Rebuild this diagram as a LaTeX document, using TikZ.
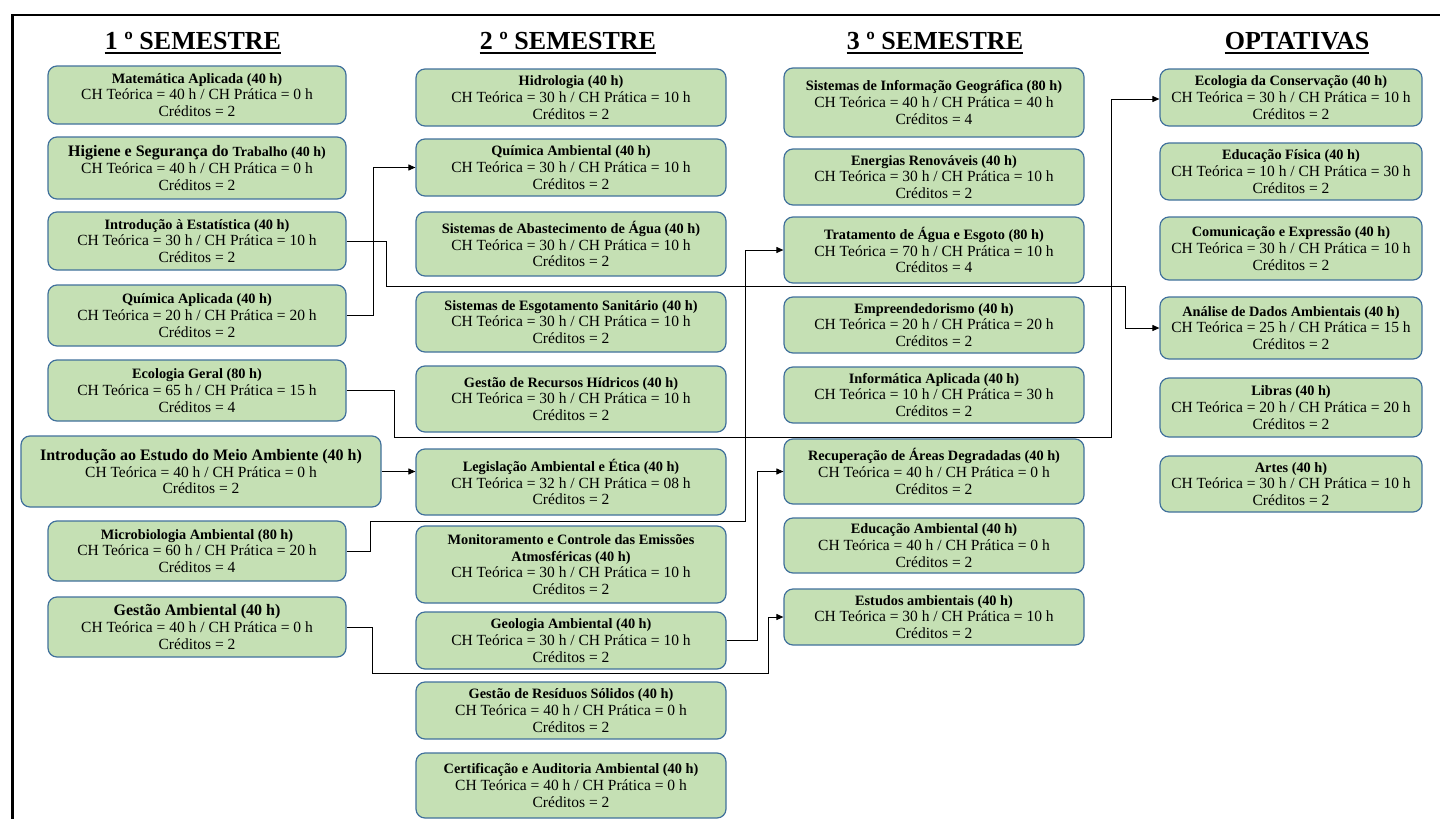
\documentclass[tikz,border=0pt]{standalone}
\usepackage{fontspec}
\setmainfont{Liberation Serif}
\usetikzlibrary{arrows.meta,calc}
\definecolor{boxfill}{HTML}{C5E0B4}
\definecolor{boxline}{HTML}{41719C}
\newcommand\ttl[1]{\textbf{\fontsize{14.3}{16.5}\selectfont #1}}
\newcommand\crs[4]{\ttl{#1}\\CH Teórica = #2 h / CH Prática = #3 h\\Créditos = #4}
\begin{document}
\begin{tikzpicture}[x=1pt,y=-1pt,
 box/.style={draw=boxline, line width=1.2pt, fill=boxfill, rounded corners=9pt, inner sep=0pt, align=center, font=\fontsize{15.5}{16.8}\selectfont},
 c1/.style={box, minimum width=298pt},
 c2/.style={box, minimum width=310pt},
 c3/.style={box, minimum width=300pt},
 c4/.style={box, minimum width=262pt},
 conn/.style={draw=black, line width=1pt, -{Triangle[length=7pt,width=6pt]}},
 head/.style={font=\fontsize{26}{30}\selectfont\bfseries, inner sep=0pt, anchor=base},
 uline/.style={line width=1.8pt}]
\useasboundingbox (0,0) rectangle (1440,819);
\fill[white] (0,0) rectangle (1440,819);
\draw[line width=2.5pt] (12.5,819) -- (12.5,15) -- (1440,15);

% headings
\node[head] (h1) at (193,49) {1 º SEMESTRE};
\node[head] (h2) at (568,49) {2 º SEMESTRE};
\node[head] (h3) at (935,49) {3 º SEMESTRE};
\node[head] (h4) at (1297,49) {OPTATIVAS};
\foreach \h in {h1,h2,h3,h4}{
  \draw[uline] ([yshift=-4pt]\h.base west) -- ([yshift=-4pt]\h.base east);
}

% column 1
\node[c1, minimum height=58pt] (mat) at (197,95) {\crs{Matemática Aplicada (40 h)}{40}{0}{2}};
\node[c1, minimum height=62pt] (hig) at (197,168) {\textbf{\fontsize{16}{16.5}\selectfont Higiene e Segurança do \fontsize{14}{16.5}\selectfont Trabalho (40 h)}\\CH Teórica = 40 h / CH Prática = 0 h\\Créditos = 2};
\node[c1, minimum height=58pt] (est) at (197,241) {\crs{Introdução à Estatística (40 h)}{30}{10}{2}};
\node[c1, minimum height=61pt] (qap) at (197,315.5) {\crs{Química Aplicada (40 h)}{20}{20}{2}};
\node[c1, minimum height=61pt] (eco) at (197,390.5) {\crs{Ecologia Geral (80 h)}{65}{15}{4}};
\node[box, minimum width=360pt, minimum height=71pt] (ime) at (201,471.5) {\textbf{\fontsize{16}{16.5}\selectfont Introdução ao Estudo do Meio Ambiente (40 h)}\\CH Teórica = 40 h / CH Prática = 0 h\\Créditos = 2};
\node[c1, minimum height=60pt] (mic) at (197,551) {\crs{Microbiologia Ambiental (80 h)}{60}{20}{4}};
\node[c1, minimum height=60pt] (gam) at (197,627) {\textbf{\fontsize{16}{16.5}\selectfont Gestão Ambiental (40 h)}\\CH Teórica = 40 h / CH Prática = 0 h\\Créditos = 2};

% column 2
\node[c2, minimum height=57pt] (hid) at (571,97.5) {\crs{Hidrologia (40 h)}{30}{10}{2}};
\node[c2, minimum height=57pt] (qam) at (571,167.5) {\crs{Química Ambiental (40 h)}{30}{10}{2}};
\node[c2, minimum height=64pt] (sab) at (571,244) {\crs{Sistemas de Abastecimento de Água (40 h)}{30}{10}{2}};
\node[c2, minimum height=60pt] (ses) at (571,322) {\crs{Sistemas de Esgotamento Sanitário (40 h)}{30}{10}{2}};
\node[c2, minimum height=66pt] (grh) at (571,399) {\crs{Gestão de Recursos Hídricos (40 h)}{30}{10}{2}};
\node[c2, minimum height=66pt] (leg) at (571,482) {\crs{Legislação Ambiental e Ética (40 h)}{32}{08}{2}};
\node[c2, minimum height=77pt] (mon) at (571,564.5) {\ttl{Monitoramento e Controle das Emissões}\\\ttl{Atmosféricas (40 h)}\\CH Teórica = 30 h / CH Prática = 10 h\\Créditos = 2};
\node[c2, minimum height=57pt] (geo) at (571,640.5) {\crs{Geologia Ambiental (40 h)}{30}{10}{2}};
\node[c2, minimum height=57pt] (grs) at (571,710.5) {\crs{Gestão de Resíduos Sólidos (40 h)}{40}{0}{2}};
\node[c2, minimum height=65pt] (cer) at (571,785.5) {\crs{Certificação e Auditoria Ambiental (40 h)}{40}{0}{2}};

% column 3
\node[c3, minimum height=69pt] (sig) at (934,102.5) {\crs{Sistemas de Informação Geográfica (80 h)}{40}{40}{4}};
\node[c3, minimum height=56pt] (ene) at (934,177) {\crs{Energias Renováveis (40 h)}{30}{10}{2}};
\node[c3, minimum height=66pt] (tra) at (934,250) {\crs{Tratamento de Água e Esgoto (80 h)}{70}{10}{4}};
\node[c3, minimum height=56pt] (emp) at (934,325) {\crs{Empreendedorismo (40 h)}{20}{20}{2}};
\node[c3, minimum height=56pt] (inf) at (934,395) {\crs{Informática Aplicada (40 h)}{10}{30}{2}};
\node[c3, minimum height=65pt] (rec) at (934,471.5) {\crs{Recuperação de Áreas Degradadas (40 h)}{40}{0}{2}};
\node[c3, minimum height=55pt] (eda) at (934,545.5) {\crs{Educação Ambiental (40 h)}{40}{0}{2}};
\node[c3, minimum height=56pt] (esa) at (934,617) {\crs{Estudos ambientais (40 h)}{30}{10}{2}};

% column 4
\node[c4, minimum height=57pt] (ecc) at (1291,97.5) {\crs{Ecologia da Conservação (40 h)}{30}{10}{2}};
\node[c4, minimum height=57pt] (edf) at (1291,171.5) {\crs{Educação Física (40 h)}{10}{30}{2}};
\node[c4, minimum height=63pt] (com) at (1291,248.5) {\crs{Comunicação e Expressão (40 h)}{30}{10}{2}};
\node[c4, minimum height=62pt] (ana) at (1291,328) {\crs{Análise de Dados Ambientais (40 h)}{25}{15}{2}};
\node[c4, minimum height=59pt] (lib) at (1291,407.5) {\crs{Libras (40 h)}{20}{20}{2}};
\node[c4, minimum height=56pt] (art) at (1291,484) {\crs{Artes (40 h)}{30}{10}{2}};

% connector bends
\coordinate (b1) at (373,315.5);
\coordinate (b2a) at (386,286);
\coordinate (b2b) at (1125,286);
\coordinate (b3a) at (394,437);
\coordinate (b3b) at (1111,437);
\coordinate (b5a) at (370,521);
\coordinate (b5b) at (745,521);
\coordinate (b6) at (757,640.5);
\coordinate (b7a) at (372,673);
\coordinate (b7b) at (768,673);

% connectors
\draw[conn] (qap.east) -- (b1) |- (qam.west);
\draw[conn] (est.east) -| (b2a) -- (b2b) |- (ana.west);
\draw[conn] (eco.east) -| (b3a) -- (b3b) |- ([yshift=-1.5pt]ecc.west);
\draw[conn] (ime.east) -- (ime.east -| leg.west);
\draw[conn] (mic.east) -| (b5a) -- (b5b) |- (tra.west);
\draw[conn] (geo.east) -- (b6) |- (rec.west);
\draw[conn] (gam.east) -| (b7a) -- (b7b) |- (esa.west);
\end{tikzpicture}
\end{document}
